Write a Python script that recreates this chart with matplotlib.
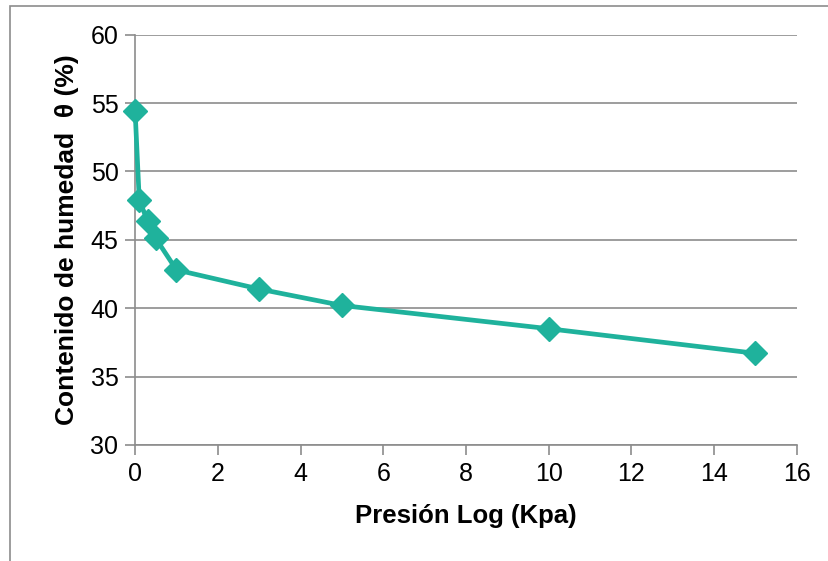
import matplotlib.pyplot as plt
from matplotlib.patches import Rectangle

plt.rcParams['font.family'] = ['Liberation Sans', 'DejaVu Sans']

# data
presion = [0, 0.1, 0.3, 0.5, 1, 3, 5, 10, 15]
humedad = [54.4, 47.9, 46.4, 45.1, 42.8, 41.4, 40.2, 38.5, 36.7]
xticks = [0, 2, 4, 6, 8, 10, 12, 14, 16]
yticks = [30, 35, 40, 45, 50, 55, 60]

color = '#1fb29c'
grey = '#8c8c8c'

fig = plt.figure(figsize=(8.29, 5.61), dpi=100)
ax = fig.add_axes([0.163, 0.207, 0.798, 0.731])

# chart area border (only top and left are visible in the crop)
fig.patches.append(Rectangle((0.012, -0.1), 1.2, 1.09, transform=fig.transFigure,
                             fill=False, edgecolor=grey, linewidth=1.2))

ax.plot(presion, humedad, color=color, linewidth=3.4, marker='D',
        markersize=12, markeredgecolor=color, markerfacecolor=color,
        clip_on=False, zorder=3)

ax.set_xlim(0, 16)
ax.set_ylim(30, 60)
ax.set_xticks(xticks)
ax.set_yticks(yticks)
ax.yaxis.grid(True, color=grey, linewidth=1.2)
ax.set_axisbelow(True)
for s in ['top', 'right']:
    ax.spines[s].set_visible(False)
for s in ['left', 'bottom']:
    ax.spines[s].set_color(grey)
    ax.spines[s].set_linewidth(1.2)
ax.tick_params(axis='both', direction='out', length=7, width=1.2, color=grey,
               labelsize=18, pad=5)

ax.set_xlabel('Presión Log (Kpa)', fontsize=18.5, fontweight='bold', labelpad=13)
ax.set_ylabel('Contenido de humedad  θ (%)', fontsize=19, fontweight='bold', labelpad=8)

fig.savefig('out.png', dpi=100)
